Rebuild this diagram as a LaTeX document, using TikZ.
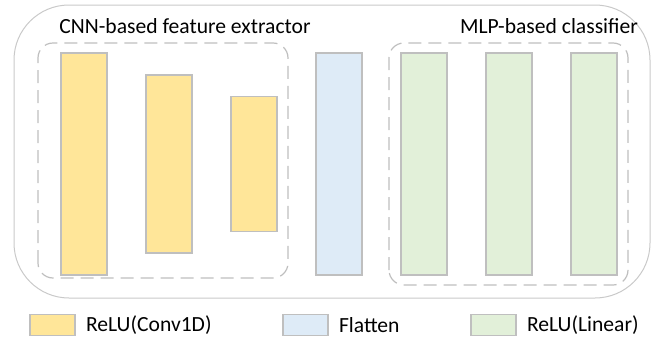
\documentclass[tikz,border=0pt]{standalone}
\usepackage{fontspec}
\setmainfont{Carlito}
\usetikzlibrary{positioning}
\definecolor{convfill}{HTML}{FFE699}
\definecolor{flatfill}{HTML}{DEEBF7}
\definecolor{linfill}{HTML}{E2F0D9}
\definecolor{barline}{HTML}{BFBFBF}
\definecolor{boxline}{HTML}{C9C9C9}
\begin{document}
\begin{tikzpicture}[x=0.5pt, y=0.5pt,
    bar/.style={draw=barline, line width=0.6pt, minimum width=23pt, inner sep=0pt},
    group/.style={draw=barline, line width=0.6pt, dash pattern=on 6.5pt off 3.5pt, rounded corners=7.5pt},
    key/.style={draw=barline, line width=0.6pt, minimum width=22.5pt, minimum height=10.5pt, inner sep=0pt},
    lbl/.style={font=\fontsize{10.8}{13}\selectfont, inner sep=0pt}]
  \useasboundingbox (0,0) rectangle (655,339);
  % outer frame and the two groups
  \draw[boxline, line width=0.5pt, rounded corners=27.5pt] (14,41) rectangle (650,334);
  \draw[group] (38,61) rectangle (288,296);
  \draw[group] (389,54) rectangle (628,296);
  \node[lbl, anchor=base] (cnn) at (185,306) {CNN-based feature extractor};
  \node[lbl, anchor=base] (mlp) at (549,306) {MLP-based classifier};
  % layers
  \foreach \x/\h [count=\i] in {84/111pt, 169/89pt, 254/67.5pt}
    \node[bar, fill=convfill, minimum height=\h] (C\i) at (\x,175) {};
  \node[bar, fill=flatfill, minimum height=111pt] (F) at (339,175) {};
  \foreach \x [count=\i] in {424, 509, 594}
    \node[bar, fill=linfill, minimum height=111pt] (L\i) at (\x,175) {};
  % legend
  \foreach \x/\c/\t [count=\i] in {52.5/convfill/ReLU(Conv1D), 305.5/flatfill/Flatten, 493.5/linfill/ReLU(Linear)}{
    \node[key, fill=\c] (K\i) at (\x,14) {};
    \node[lbl, right=5pt of K\i] (T\i) {\t};
  }
\end{tikzpicture}
\end{document}
